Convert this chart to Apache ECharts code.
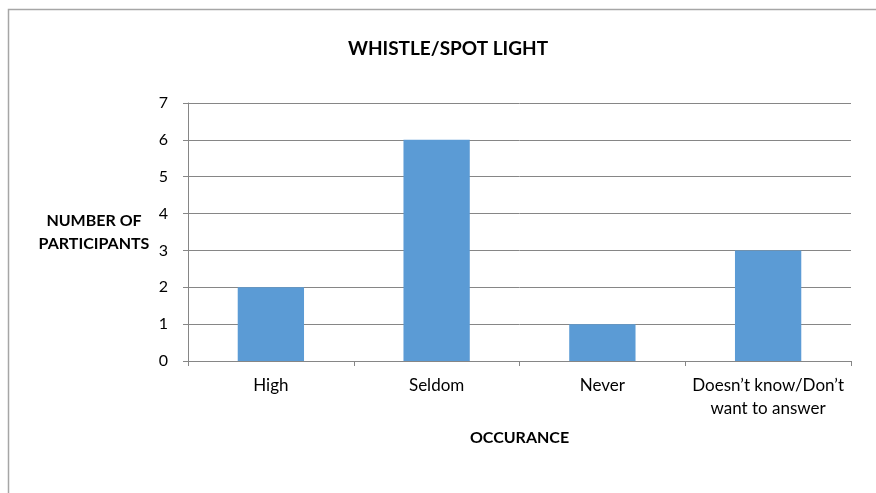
<!DOCTYPE html>
<html><head><meta charset="utf-8">
<script src="https://cdn.jsdelivr.net/npm/echarts@6/dist/echarts.min.js"></script>
<style>html,body{margin:0;padding:0;background:#fff}#c{width:876px;height:493px}</style>
</head><body><div id="c"></div>
<script>
const categories = ['High', 'Seldom', 'Never', 'Doesn\u2019t know/Don\u2019t\nwant to answer'];
const values = [2, 6, 1, 3];
const yTicks = [0, 1, 2, 3, 4, 5, 6, 7];
const titleText = 'WHISTLE/SPOT LIGHT';
const xTitle = 'OCCURANCE';
const yTitle = 'NUMBER OF\nPARTICIPANTS';

const font = 'Lato, "Open Sans", sans-serif';
const chart = echarts.init(document.getElementById('c'));
chart.setOption({
  animation: false,
  title: { text: titleText, left: 443, top: 34, textAlign: 'center',
    textStyle: { fontFamily: font, fontWeight: 'bold', fontSize: 19, color: '#000' } },
  grid: { left: 188, right: 25, top: 103, bottom: 132, containLabel: false },
  graphic: [
    { type: 'rect', shape: { x: 8.5, y: 9.5, width: 1000, height: 800 },
      style: { fill: null, stroke: '#a6a6a6', lineWidth: 1.5 }, silent: true },
    { type: 'text', x: 94, y: 232, style: { text: yTitle, fontFamily: font, fontWeight: 'bold',
      fontSize: 16, fill: '#000', align: 'center', verticalAlign: 'middle', lineHeight: 23 } }
  ],
  xAxis: {
    type: 'category', data: categories,
    name: xTitle, nameLocation: 'middle', nameGap: 69,
    nameTextStyle: { fontFamily: font, fontWeight: 'bold', fontSize: 16, color: '#000' },
    axisLine: { lineStyle: { color: '#868686', width: 1 } },
    axisTick: { show: true, alignWithLabel: false, length: 5, lineStyle: { color: '#868686' } },
    axisLabel: { fontFamily: font, fontSize: 17, color: '#000', margin: 13, lineHeight: 23, interval: 0 }
  },
  yAxis: {
    type: 'value', min: yTicks[0], max: yTicks[yTicks.length - 1], interval: 1,
    axisLine: { show: true, lineStyle: { color: '#868686', width: 1 } },
    axisTick: { show: true, length: 5, lineStyle: { color: '#868686' } },
    axisLabel: { fontFamily: font, fontSize: 16, color: '#000', margin: 20 },
    splitLine: { show: true, lineStyle: { color: '#868686', width: 1 } }
  },
  series: [{
    type: 'bar', data: values, barWidth: '40%',
    itemStyle: { color: '#5b9bd5' }
  }]
});
</script></body></html>
